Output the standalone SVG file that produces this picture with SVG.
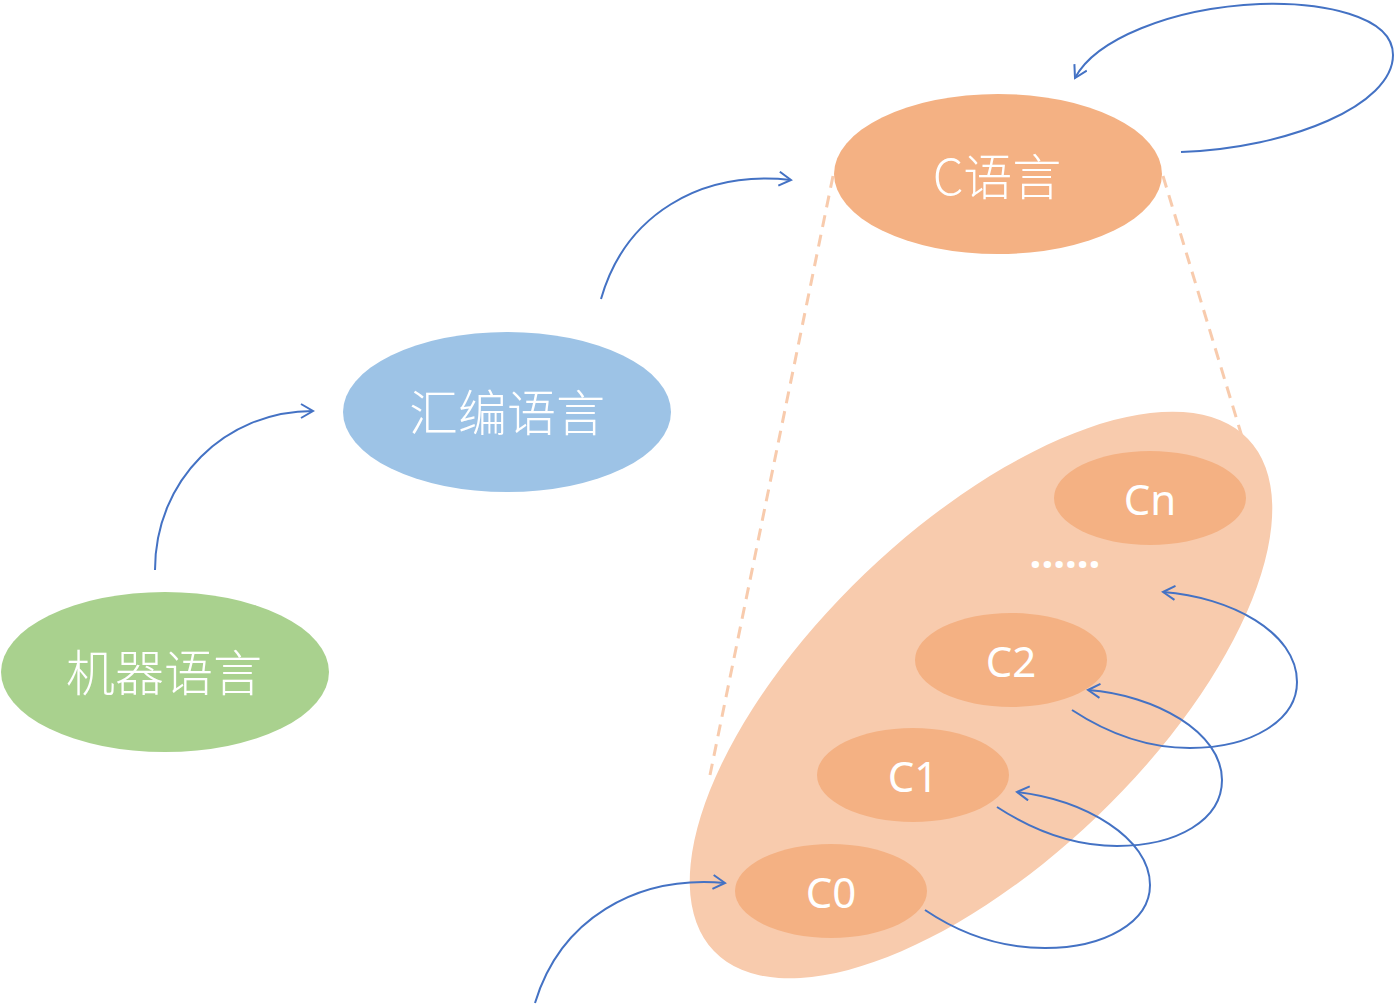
<svg xmlns="http://www.w3.org/2000/svg" width="1396" height="1005" viewBox="0 0 1396 1005">
<style>
.lbl{fill:#ffffff;font-family:"Noto Sans CJK SC","Noto Sans",sans-serif;text-anchor:middle;}
.big{font-size:49px;font-weight:300;}
.sm{font-size:42px;font-family:"Noto Sans","Noto Sans CJK SC",sans-serif;}
.conn{fill:none;stroke:#4472c4;stroke-width:2;marker-end:url(#arr);}
.dash{fill:none;stroke:#f8cbad;stroke-width:3;stroke-dasharray:12 8;}
.sub{fill:#f4b183;}
</style>
<defs>
<marker id="arr" viewBox="0 0 16 16" refX="14" refY="8" markerWidth="16" markerHeight="16" markerUnits="userSpaceOnUse" orient="auto">
<path d="M2,1 L14,8 L2,15" fill="none" stroke="#4472c4" stroke-width="2"/>
</marker>
</defs>
<rect width="1396" height="1005" fill="#ffffff"/>
<g id="dashes">
<line class="dash" x1="833" y1="176" x2="710" y2="775"/>
<line class="dash" x1="1163" y1="176" x2="1243" y2="440"/>
</g>
<g id="c-family">
<ellipse cx="981" cy="695" rx="370" ry="168" transform="rotate(-43.8 981 695)" fill="#f8cbad"/>
</g>
<g id="machine">
<ellipse cx="165" cy="672" rx="164" ry="80" fill="#a9d18e"/>
<text class="lbl big" x="164" y="691">机器语言</text>
</g>
<g id="assembly">
<ellipse cx="507" cy="412" rx="164" ry="80" fill="#9dc3e6"/>
<text class="lbl big" x="507" y="431">汇编语言</text>
</g>
<g id="clang">
<ellipse cx="998" cy="174" rx="164" ry="80" fill="#f4b183"/>
<text class="lbl big" x="997" y="195">C语言</text>
</g>
<g id="cn">
<ellipse class="sub" cx="1150" cy="498" rx="96" ry="47"/>
<text class="lbl sm" x="1150" y="515">Cn</text>
</g>
<g id="dots">
<text class="lbl sm" x="1065" y="568" font-weight="bold" letter-spacing="0">......</text>
</g>
<g id="c2">
<ellipse class="sub" cx="1011" cy="660" rx="96" ry="47"/>
<text class="lbl sm" x="1011" y="677">C2</text>
</g>
<g id="c1">
<ellipse class="sub" cx="913" cy="775" rx="96" ry="47"/>
<text class="lbl sm" x="913" y="792">C1</text>
</g>
<g id="c0">
<ellipse class="sub" cx="831" cy="891" rx="96" ry="47"/>
<text class="lbl sm" x="831" y="908">C0</text>
</g>
<g id="connectors">
<path class="conn" d="M155,570 C155,480 225,411 313,411"/>
<path class="conn" d="M601,299 C625,215 700,170 791,180"/>
<path class="conn" d="M1181,152 C1290,148 1393,105 1393,55 C1393,15 1320,2 1260,4 C1170,8 1095,40 1075,78"/>
<path class="conn" d="M535,1003 C560,920 635,875 725,883"/>
<path class="conn" d="M925,910 C965,937 1005,948 1045,948 C1105,948 1150,922 1150,885 C1150,838 1085,800 1017,792"/>
<path class="conn" d="M997,807 C1037,833 1077,846 1117,846 C1177,846 1222,820 1222,780 C1222,732 1155,695 1088,690"/>
<path class="conn" d="M1072,710 C1110,735 1150,748 1190,748 C1252,748 1297,720 1297,682 C1297,632 1230,597 1163,592"/>
</g>
</svg>
